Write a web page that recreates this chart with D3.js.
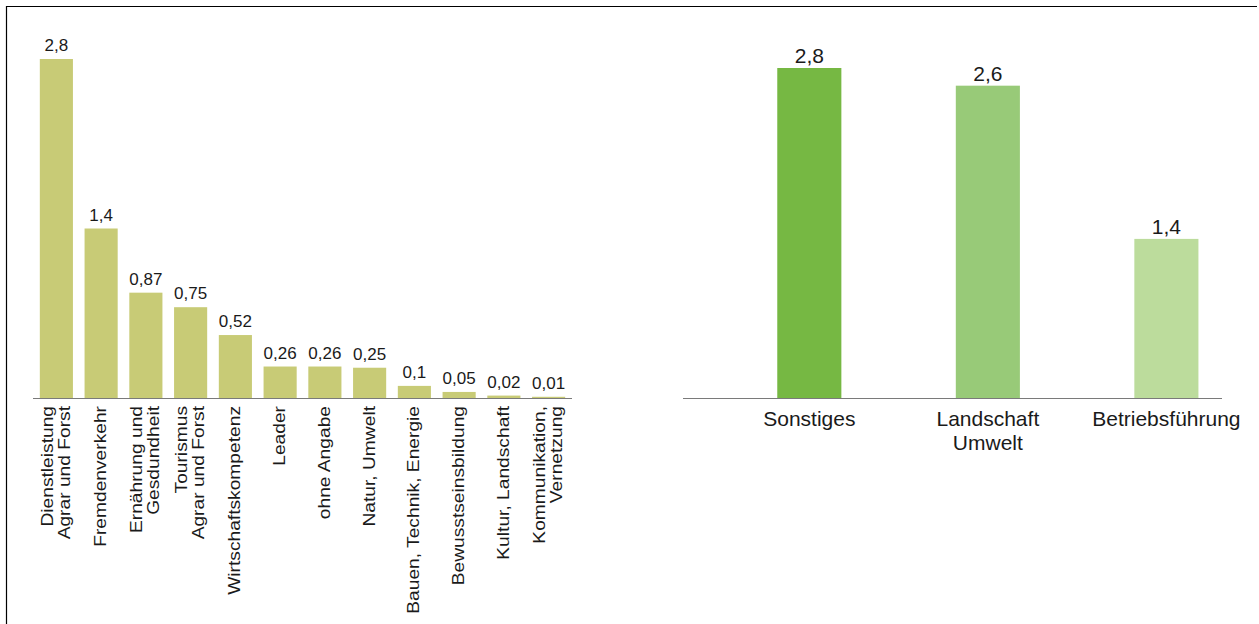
<!DOCTYPE html>
<html>
<head>
<meta charset="utf-8">
<script src="https://cdn.jsdelivr.net/npm/d3@7"></script>
<style>
	body { margin: 0; background: #fff; }
	#chart { width: 1259px; height: 624px; }
	text { font-family: "Liberation Sans", Arial, sans-serif; fill: #1a1a1a; }
</style>
</head>
<body>
<div id="chart"></div>
<script>

// left chart - Themen
const leftCategories = ["Dienstleistung\nAgrar und Forst", "Fremdenverkehr", "Ernährung und\nGesdundheit",
	"Tourismus\nAgrar und Forst", "Wirtschaftskompetenz", "Leader", "ohne Angabe", "Natur, Umwelt",
	"Bauen, Technik, Energie", "Bewusstseinsbildung", "Kultur, Landschaft", "Kommunikation,\nVernetzung"];
const leftValues = [2.8, 1.4, 0.87, 0.75, 0.52, 0.26, 0.26, 0.25, 0.1, 0.05, 0.02, 0.01];
const leftLabels = ["2,8", "1,4", "0,87", "0,75", "0,52", "0,26", "0,26", "0,25", "0,1", "0,05", "0,02", "0,01"];

// right chart - Bereiche
const rightCategories = ["Sonstiges", "Landschaft\nUmwelt", "Betriebsführung"];
const rightValues = [2.8, 2.65, 1.35];
const rightLabels = ["2,8", "2,6", "1,4"];
const rightColours = ["#76b843", "#98ca78", "#bcdc9c"];

class BarChart {

	constructor(svg, opts) {
		this.svg = svg;
		this.opts = opts;
		this.data = opts.categories.map((c, i) => ({name: c, value: opts.values[i], label: opts.labels[i]}));
	}

	initVis() {
		let vis = this;
		let o = vis.opts;

		vis.x = d3.scaleBand()
			.domain(vis.data.map(d => d.name))
			.range(o.xRange)
			.paddingInner(o.paddingInner)
			.paddingOuter(o.paddingOuter)
			.align(o.align);

		vis.y = d3.scaleLinear()
			.domain([0, 2.8])
			.range(o.yRange);

		vis.g = vis.svg.append("g");

		// baseline only, no ticks
		vis.g.append("g")
			.attr("transform", "translate(0," + vis.y(0) + ")")
			.call(d3.axisBottom(vis.x).tickSize(0).tickFormat(""))
			.call(g => g.select(".domain").attr("stroke", "#7a7a7a").attr("d", "M" + o.axisExtent[0] + ",0.5H" + o.axisExtent[1]));

		this.updateVis();
	}

	updateVis() {
		let vis = this;
		let o = vis.opts;

		vis.g.selectAll("rect.bar")
			.data(vis.data)
			.join("rect")
			.attr("class", "bar")
			.attr("x", d => vis.x(d.name))
			.attr("width", vis.x.bandwidth())
			.attr("y", d => vis.y(d.value))
			.attr("height", d => vis.y(0) - vis.y(d.value))
			.attr("fill", (d, i) => o.colours[i % o.colours.length]);

		vis.g.selectAll("text.value")
			.data(vis.data)
			.join("text")
			.attr("class", "value")
			.attr("x", d => vis.x(d.name) + vis.x.bandwidth() / 2)
			.attr("y", d => vis.y(d.value) - o.valueGap)
			.attr("text-anchor", "middle")
			.style("font-size", o.valueSize + "px")
			.text(d => d.label);

		let cats = vis.g.selectAll("text.cat")
			.data(vis.data)
			.join("text")
			.attr("class", "cat")
			.style("font-size", o.catSize + "px");

		if (o.rotated) {
			cats.attr("text-anchor", "end")
				.attr("transform", d => {
					let cx = vis.x(d.name) + vis.x.bandwidth() / 2;
					return "translate(" + cx + "," + o.catTop + ") rotate(-90) scale(" + o.stretch + ",1)";
				});
			cats.selectAll("tspan")
				.data(d => d.name.split("\n").map((t, i, arr) => ({t: t, i: i, n: arr.length})))
				.join("tspan")
				.attr("x", 0)
				.attr("y", d => 5 + (d.i - (d.n - 1) / 2) * o.lineHeight)
				.text(d => d.t);
		} else {
			cats.attr("text-anchor", "middle")
				.attr("transform", d => "translate(" + (vis.x(d.name) + vis.x.bandwidth() / 2) + "," + o.catTop + ")");
			cats.selectAll("tspan")
				.data(d => d.name.split("\n"))
				.join("tspan")
				.attr("x", 0)
				.attr("y", (d, i) => i * o.lineHeight)
				.text(d => d);
		}
	}
}

let svg = d3.select("#chart").append("svg")
	.attr("width", 1259)
	.attr("height", 624);

// frame (top and left edge only visible)
svg.append("path")
	.attr("d", "M6.5,624V6.5H1257")
	.attr("fill", "none")
	.attr("stroke", "#000")
	.attr("stroke-width", 1.2);

let left = new BarChart(svg, {
	categories: leftCategories, values: leftValues, labels: leftLabels,
	colours: ["#c8cb76"],
	xRange: [34, 571], paddingInner: 0.26, paddingOuter: 0.13, align: 0.5,
	yRange: [398, 59], axisExtent: [33, 572],
	valueSize: 17, valueGap: 8,
	rotated: true, catTop: 406, catSize: 17, lineHeight: 17, stretch: 1.13
});
left.initVis();

let right = new BarChart(svg, {
	categories: rightCategories, values: rightValues, labels: rightLabels,
	colours: rightColours,
	xRange: [683, 1222], paddingInner: 0.641, paddingOuter: 0.33, align: 0.8,
	yRange: [398, 68], axisExtent: [683, 1222],
	valueSize: 21, valueGap: 5,
	rotated: false, catTop: 426, catSize: 21, lineHeight: 24
});
right.initVis();

</script>
</body>
</html>
